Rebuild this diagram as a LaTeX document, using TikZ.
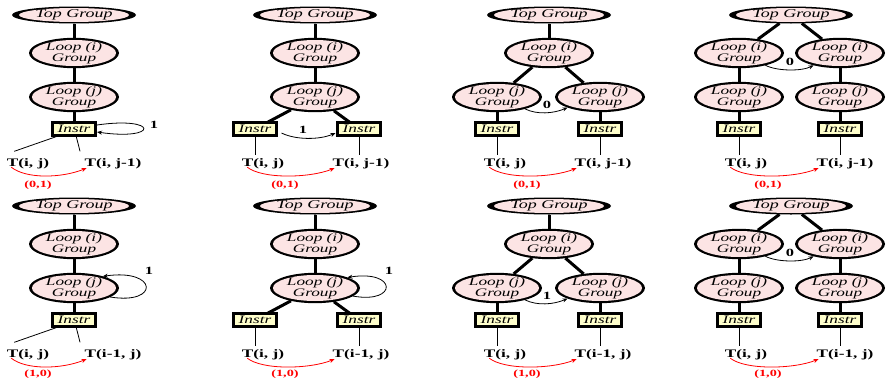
\documentclass[tikz,border=0pt]{standalone}
\usepackage{fontspec}
\setmainfont{Liberation Serif}[FakeStretch=1.5]
\usetikzlibrary{shapes.geometric,arrows.meta,calc}
\definecolor{grpfill}{RGB}{252,228,228}
\definecolor{insfill}{RGB}{255,255,204}
\definecolor{depred}{RGB}{255,0,0}
\tikzset{
  grp/.style={ellipse, fill=black, inner sep=0pt, outer sep=0pt,
    minimum width=90pt, minimum height=30pt, align=center,
    font=\itshape\fontsize{11.5}{9.5}\selectfont,
    path picture={\fill[grpfill] (path picture bounding box.center)
      ellipse [x radius=42pt, y radius=13pt];}},
  topgrp/.style={ellipse, fill=black, inner sep=0pt, outer sep=0pt,
    minimum width=124pt, minimum height=17pt,
    font=\itshape\fontsize{12}{12}\selectfont,
    path picture={\fill[grpfill] (path picture bounding box.center)
      ellipse [x radius=55pt, y radius=7pt];}},
  instr/.style={rectangle, draw=black, line width=2.6pt, fill=insfill,
    minimum width=43pt, minimum height=13pt, inner sep=0pt, outer sep=0pt,
    font=\itshape\fontsize{11.5}{12}\selectfont},
  lab/.style={font=\bfseries\fontsize{11.5}{12}\selectfont, inner sep=2.5pt, anchor=base},
  dep/.style={text=depred, font=\bfseries\fontsize{9.5}{10}\selectfont, inner sep=1pt},
  num/.style={font=\bfseries\fontsize{11}{12}\selectfont, inner sep=1pt},
  tree/.style={line width=3pt},
  leaf/.style={line width=0.8pt},
  arc/.style={line width=0.8pt, -{Stealth[length=5pt,width=4pt]}},
  deparc/.style={arc, draw=depred, color=depred}
}
\begin{document}
\begin{tikzpicture}[x=1pt,y=-1pt]
\useasboundingbox (0,0) rectangle (887,383);

% ---------------- row 1: (0,1) dependence ----------------
% panel A: one loop nest, one instruction
\node[topgrp] (a1t) at (74,15) {Top Group};
\node[grp] (a1i) at (74,53) {Loop (i)\\Group};
\node[grp] (a1j) at (74,97) {Loop (j)\\Group};
\node[instr] (a1s) at (74,129) {Instr};
\node[lab] (a1p) at (28,166) {T(i, j)};
\node[lab] (a1q) at (113,166) {T(i, j-1)};
\draw[tree] (a1t) -- (a1i);
\draw[tree] (a1i) -- (a1j);
\draw[tree] (a1j) -- (a1s);
\draw[leaf] ($(a1s.south west)+(7,0)$) -- ($(a1p.north west)+(10,-4)$);
\draw[leaf] ($(a1s.south)+(2,0)$) -- ($(a1q.north west)+(-2,-4)$);
\draw[arc] ($(a1s.east)+(1.5,-4)$) .. controls +(62,-9) and +(62,9) .. ($(a1s.east)+(1.5,3)$);
\node[num] (a1n) at (154,125) {1};
\draw[deparc] ($(a1p.south west)+(7,-4)$) .. controls +(15,12) and +(-25,10) .. ($(a1q.south west)+(4.5,-3)$);
\node[dep] (a1d) at (38,185) {(0,1)};

% panel B: instruction split
\node[topgrp] (b1t) at (315,15) {Top Group};
\node[grp] (b1i) at (315,53) {Loop (i)\\Group};
\node[grp] (b1j) at (315,97) {Loop (j)\\Group};
\node[instr] (b1s) at (255,129) {Instr};
\node[instr] (b1r) at (359,129) {Instr};
\node[lab] (b1p) at (263,166) {T(i, j)};
\node[lab] (b1q) at (361,166) {T(i, j-1)};
\draw[tree] (b1t) -- (b1i);
\draw[tree] (b1i) -- (b1j);
\draw[tree] (b1j) -- (b1s);
\draw[tree] (b1j) -- (b1r);
\draw[leaf] (b1s.south) -- (b1s.south |- b1p.north);
\draw[leaf] (b1r.south) -- (b1r.south |- b1q.north);
\draw[arc] ($(b1s.east)+(5,4)$) .. controls +(14,7) and +(-16,7) .. ($(b1r.west)+(-2,4)$);
\node[num] (b1n) at (303,130) {1};
\draw[deparc] ($(b1p.south west)+(8,-4)$) .. controls +(15,12) and +(-25,10) .. ($(b1q.south west)+(4.5,-3)$);
\node[dep] (b1d) at (285,185) {(0,1)};

% panel C: j loop split
\node[topgrp] (c1t) at (549,15) {Top Group};
\node[grp] (c1i) at (549,53) {Loop (i)\\Group};
\node[grp] (c1j) at (497,97) {Loop (j)\\Group};
\node[grp] (c1k) at (600,97) {Loop (j)\\Group};
\node[instr] (c1s) at (497,129) {Instr};
\node[instr] (c1r) at (600,129) {Instr};
\node[lab] (c1p) at (505,166) {T(i, j)};
\node[lab] (c1q) at (603,166) {T(i, j-1)};
\draw[tree] (c1t) -- (c1i);
\draw[tree] (c1i) -- (c1j);
\draw[tree] (c1i) -- (c1k);
\draw[tree] (c1j) -- (c1s);
\draw[tree] (c1k) -- (c1r);
\draw[leaf] (c1s.south) -- (c1s.south |- c1p.north);
\draw[leaf] (c1r.south) -- (c1r.south |- c1q.north);
\draw[arc] (c1j.-23) .. controls +(12,6) and +(-14,6) .. (c1k.-162);
\node[num] (c1n) at (547,105) {0};
\draw[deparc] ($(c1p.south west)+(8,-4)$) .. controls +(15,12) and +(-25,10) .. ($(c1q.south west)+(4.5,-3)$);
\node[dep] (c1d) at (527,185) {(0,1)};

% panel D: i loop split
\node[topgrp] (d1t) at (791,15) {Top Group};
\node[grp] (d1i) at (739,53) {Loop (i)\\Group};
\node[grp] (d1k) at (840,53) {Loop (i)\\Group};
\node[grp] (d1j) at (739,97) {Loop (j)\\Group};
\node[grp] (d1l) at (840,97) {Loop (j)\\Group};
\node[instr] (d1s) at (739,129) {Instr};
\node[instr] (d1r) at (840,129) {Instr};
\node[lab] (d1p) at (746,166) {T(i, j)};
\node[lab] (d1q) at (845,166) {T(i, j-1)};
\draw[tree] (d1t) -- (d1i);
\draw[tree] (d1t) -- (d1k);
\draw[tree] (d1i) -- (d1j);
\draw[tree] (d1k) -- (d1l);
\draw[tree] (d1j) -- (d1s);
\draw[tree] (d1l) -- (d1r);
\draw[leaf] (d1s.south) -- (d1s.south |- d1p.north);
\draw[leaf] (d1r.south) -- (d1r.south |- d1q.north);
\draw[arc] (d1i.-25) .. controls +(12,6) and +(-12,6) .. (d1k.-155);
\node[num] (d1n) at (790,62) {0};
\draw[deparc] ($(d1p.south west)+(8,-4)$) .. controls +(15,12) and +(-25,10) .. ($(d1q.south west)+(4.5,-3)$);
\node[dep] (d1d) at (768,185) {(0,1)};

% ---------------- row 2: (1,0) dependence ----------------
\begin{scope}[yshift=-191pt]
% panel A
\node[topgrp] (a2t) at (74,15) {Top Group};
\node[grp] (a2i) at (74,53) {Loop (i)\\Group};
\node[grp] (a2j) at (74,97) {Loop (j)\\Group};
\node[instr] (a2s) at (74,129) {Instr};
\node[lab] (a2p) at (28,166) {T(i, j)};
\node[lab] (a2q) at (113,166) {T(i-1, j)};
\draw[tree] (a2t) -- (a2i);
\draw[tree] (a2i) -- (a2j);
\draw[tree] (a2j) -- (a2s);
\draw[leaf] ($(a2s.south west)+(7,0)$) -- ($(a2p.north west)+(10,-4)$);
\draw[leaf] ($(a2s.south)+(2,0)$) -- ($(a2q.north west)+(-2,-4)$);
\draw[arc] (a2j.-14) .. controls +(50,8) and +(55,-8) .. (a2j.22);
\node[num] (a2n) at (149,80) {1};
\draw[deparc] ($(a2p.south west)+(7,-4)$) .. controls +(15,12) and +(-25,10) .. ($(a2q.south west)+(4.5,-3)$);
\node[dep] (a2d) at (38,183) {(1,0)};

% panel B
\node[topgrp] (b2t) at (315,15) {Top Group};
\node[grp] (b2i) at (315,53) {Loop (i)\\Group};
\node[grp] (b2j) at (315,97) {Loop (j)\\Group};
\node[instr] (b2s) at (255,129) {Instr};
\node[instr] (b2r) at (359,129) {Instr};
\node[lab] (b2p) at (263,166) {T(i, j)};
\node[lab] (b2q) at (361,166) {T(i-1, j)};
\draw[tree] (b2t) -- (b2i);
\draw[tree] (b2i) -- (b2j);
\draw[tree] (b2j) -- (b2s);
\draw[tree] (b2j) -- (b2r);
\draw[leaf] (b2s.south) -- (b2s.south |- b2p.north);
\draw[leaf] (b2r.south) -- (b2r.south |- b2q.north);
\draw[arc] (b2j.-12) .. controls +(45,8) and +(50,-8) .. (b2j.18);
\node[num] (b2n) at (389,80) {1};
\draw[deparc] ($(b2p.south west)+(8,-4)$) .. controls +(15,12) and +(-25,10) .. ($(b2q.south west)+(4.5,-3)$);
\node[dep] (b2d) at (285,183) {(1,0)};

% panel C
\node[topgrp] (c2t) at (549,15) {Top Group};
\node[grp] (c2i) at (549,53) {Loop (i)\\Group};
\node[grp] (c2j) at (497,97) {Loop (j)\\Group};
\node[grp] (c2k) at (600,97) {Loop (j)\\Group};
\node[instr] (c2s) at (497,129) {Instr};
\node[instr] (c2r) at (600,129) {Instr};
\node[lab] (c2p) at (505,166) {T(i, j)};
\node[lab] (c2q) at (603,166) {T(i-1, j)};
\draw[tree] (c2t) -- (c2i);
\draw[tree] (c2i) -- (c2j);
\draw[tree] (c2i) -- (c2k);
\draw[tree] (c2j) -- (c2s);
\draw[tree] (c2k) -- (c2r);
\draw[leaf] (c2s.south) -- (c2s.south |- c2p.north);
\draw[leaf] (c2r.south) -- (c2r.south |- c2q.north);
\draw[arc] (c2j.-23) .. controls +(12,6) and +(-14,6) .. (c2k.-162);
\node[num] (c2n) at (547,105) {1};
\draw[deparc] ($(c2p.south west)+(8,-4)$) .. controls +(15,12) and +(-25,10) .. ($(c2q.south west)+(4.5,-3)$);
\node[dep] (c2d) at (527,183) {(1,0)};

% panel D
\node[topgrp] (d2t) at (791,15) {Top Group};
\node[grp] (d2i) at (739,53) {Loop (i)\\Group};
\node[grp] (d2k) at (840,53) {Loop (i)\\Group};
\node[grp] (d2j) at (739,97) {Loop (j)\\Group};
\node[grp] (d2l) at (840,97) {Loop (j)\\Group};
\node[instr] (d2s) at (739,129) {Instr};
\node[instr] (d2r) at (840,129) {Instr};
\node[lab] (d2p) at (746,166) {T(i, j)};
\node[lab] (d2q) at (845,166) {T(i-1, j)};
\draw[tree] (d2t) -- (d2i);
\draw[tree] (d2t) -- (d2k);
\draw[tree] (d2i) -- (d2j);
\draw[tree] (d2k) -- (d2l);
\draw[tree] (d2j) -- (d2s);
\draw[tree] (d2l) -- (d2r);
\draw[leaf] (d2s.south) -- (d2s.south |- d2p.north);
\draw[leaf] (d2r.south) -- (d2r.south |- d2q.north);
\draw[arc] (d2i.-25) .. controls +(12,6) and +(-12,6) .. (d2k.-155);
\node[num] (d2n) at (790,62) {0};
\draw[deparc] ($(d2p.south west)+(8,-4)$) .. controls +(15,12) and +(-25,10) .. ($(d2q.south west)+(4.5,-3)$);
\node[dep] (d2d) at (768,183) {(1,0)};
\end{scope}
\end{tikzpicture}
\end{document}
